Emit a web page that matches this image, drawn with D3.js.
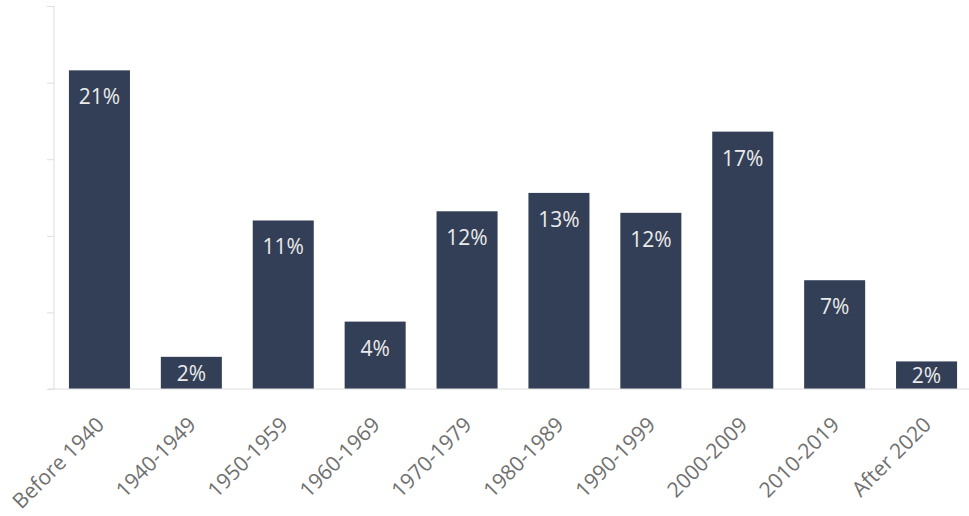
<!DOCTYPE html>
<html>
<head>
<meta charset="utf-8">
<script src="https://cdn.jsdelivr.net/npm/d3@7"></script>
<style>
  html, body { margin: 0; padding: 0; background: #fff; }
  svg { display: block; }
</style>
</head>
<body>
<svg id="chart" width="969" height="516"></svg>
<script>
// Share of homes by year built
const categories = ["Before 1940", "1940-1949", "1950-1959", "1960-1969", "1970-1979",
                    "1980-1989", "1990-1999", "2000-2009", "2010-2019", "After 2020"];
const shares = [20.8, 2.1, 11.0, 4.4, 11.6, 12.8, 11.5, 16.8, 7.1, 1.8];
const yTicks = [0, 5, 10, 15, 20, 25];

const W = 969, H = 516;
const margin = { left: 54, right: -3, top: 6, bottom: 127 };
const svg = d3.select("#chart");

const x = d3.scaleBand()
  .domain(categories)
  .range([margin.left, W - margin.right])
  .paddingInner(0.336)
  .paddingOuter(0.1625);

const y = d3.scaleLinear()
  .domain([0, 25])
  .range([H - margin.bottom, margin.top]);

const baseY = y(0);
const axisColor = "#dedede";

// y axis: line with tick marks, no labels
const yAxis = svg.append("g")
  .attr("transform", `translate(${margin.left},0)`)
  .call(d3.axisLeft(y).tickValues(yTicks).tickSize(7).tickFormat(""));
yAxis.select(".domain").attr("stroke", axisColor).attr("d", `M0,${y(25)}V${baseY}`);
yAxis.selectAll(".tick line").attr("stroke", axisColor);

// bars
svg.append("g").selectAll("rect")
  .data(categories)
  .join("rect")
  .attr("x", d => x(d))
  .attr("width", x.bandwidth())
  .attr("y", (d, i) => y(shares[i]))
  .attr("height", (d, i) => baseY - y(shares[i]))
  .attr("fill", "#333f56");

// x axis baseline and rotated category labels
const xAxis = svg.append("g")
  .attr("transform", `translate(0,${baseY})`)
  .call(d3.axisBottom(x).tickSize(0).tickPadding(0));
xAxis.select(".domain").attr("stroke", axisColor).attr("d", `M${margin.left - 6},0H${W}`);
xAxis.selectAll(".tick text")
  .attr("font-family", "'Open Sans', sans-serif")
  .attr("font-size", 21)
  .attr("fill", "#707070")
  .attr("text-anchor", "end")
  .attr("dy", 0)
  .attr("y", 0)
  .attr("transform", "translate(6,37) rotate(-45)");

// value labels inside bars
svg.append("g").selectAll("text")
  .data(categories)
  .join("text")
  .attr("x", d => x(d) + x.bandwidth() / 2)
  .attr("y", (d, i) => {
    const top = y(shares[i]);
    const mid = (top + baseY) / 2 + 8;
    return Math.min(top + 34, mid);
  })
  .attr("text-anchor", "middle")
  .attr("font-family", "'Open Sans', sans-serif")
  .attr("font-size", 21)
  .attr("fill", "#ebebeb")
  .text((d, i) => d3.format(".0f")(shares[i]) + "%");
</script>
</body>
</html>
